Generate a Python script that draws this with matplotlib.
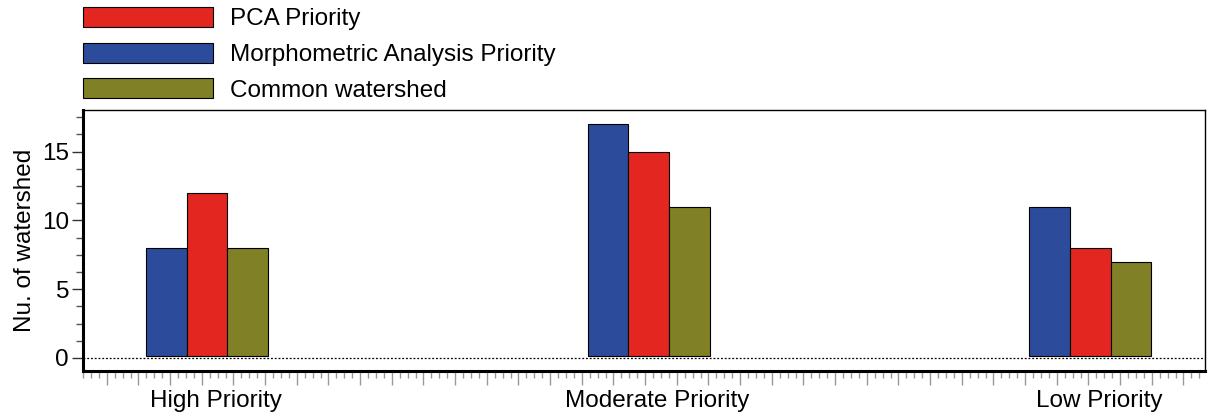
import numpy as np
import matplotlib.pyplot as plt
from matplotlib.patches import Patch
from matplotlib.ticker import MultipleLocator, FixedLocator

plt.rcParams['font.family'] = ['Liberation Sans', 'DejaVu Sans']

categories = ['High Priority', 'Moderate Priority', 'Low Priority']
morpho = [8, 17, 11]
pca = [12, 15, 8]
common = [8, 11, 7]

c_blue = '#2c4c9b'
c_red = '#e42621'
c_olive = '#808026'

fs = 17.5

fig = plt.figure(figsize=(12.08, 4.16), dpi=100)
ax = fig.add_axes([0.0687, 0.108, 0.929, 0.627])

x = np.arange(len(categories))
w = 0.092
base = 0.15
ax.bar(x - w, np.array(morpho) - base, w, bottom=base, color=c_blue, edgecolor='black', linewidth=0.8)
ax.bar(x, np.array(pca) - base, w, bottom=base, color=c_red, edgecolor='black', linewidth=0.8)
ax.bar(x + w, np.array(common) - base, w, bottom=base, color=c_olive, edgecolor='black', linewidth=0.8)

ax.axhline(0, color='black', linestyle=(0, (1.5, 1.5)), linewidth=0.9)

ax.set_xlim(-0.281, 2.26)
ax.set_ylim(-0.95, 18)

# y axis ticks
ax.yaxis.set_major_locator(MultipleLocator(5))
ax.yaxis.set_minor_locator(MultipleLocator(1.25))
ax.tick_params(axis='y', which='major', direction='out', length=8, width=1, labelsize=fs, color='#333333', pad=2)
ax.tick_params(axis='y', which='minor', direction='out', length=5, width=1, color='#555555')
ax.set_ylabel('Nu. of watershed', fontsize=fs, labelpad=4)

# x axis: dense grey ruler ticks, labels placed separately
step = 0.0717
majors = np.arange(-0.012 - 4 * step, 2.3, step)
minors = np.arange(-0.012 - 4 * step, 2.3, step / 4)
ax.xaxis.set_major_locator(FixedLocator(majors))
ax.xaxis.set_minor_locator(FixedLocator(minors))
ax.tick_params(axis='x', which='major', direction='out', length=10, width=1, color='#999999', labelbottom=False)
ax.tick_params(axis='x', which='minor', direction='out', length=5, width=1, color='#999999')
for xi, lab in zip(x, categories):
    ax.text(xi + 0.02, -0.072, lab, transform=ax.get_xaxis_transform(), ha='center', va='top', fontsize=fs)

for s in ['left', 'bottom']:
    ax.spines[s].set_linewidth(2.2)
for s in ['top', 'right']:
    ax.spines[s].set_linewidth(1.0)

handles = [Patch(facecolor=c_red, edgecolor='black', linewidth=0.8, label='PCA Priority'),
           Patch(facecolor=c_blue, edgecolor='black', linewidth=0.8, label='Morphometric Analysis Priority'),
           Patch(facecolor=c_olive, edgecolor='black', linewidth=0.8, label='Common watershed')]
fig.legend(handles=handles, loc='upper left', bbox_to_anchor=(83 / 1208, 1 - 7 / 416),
           frameon=False, fontsize=fs, handlelength=5.35, handleheight=0.9,
           labelspacing=0.5, handletextpad=0.7, borderpad=0, borderaxespad=0)

fig.savefig('out.png', dpi=100)
